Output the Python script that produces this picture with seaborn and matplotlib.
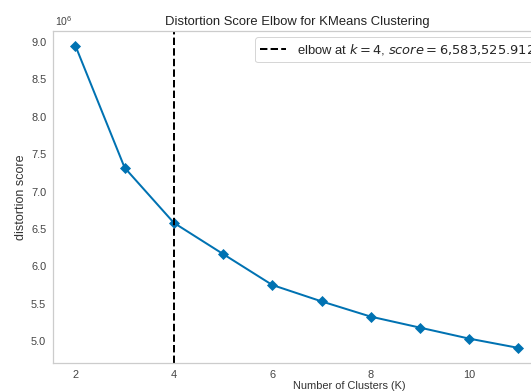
import matplotlib
matplotlib.use("Agg")
import matplotlib.pyplot as plt
import seaborn as sns
import pandas as pd

# Elbow curve for KMeans: distortion (sum of squared distances) per k
k_values = [2, 3, 4, 5, 6, 7, 8, 9, 10, 11]
distortion = [8.950e6, 7.320e6, 6583525.912, 6.167e6, 5.753e6,
              5.534e6, 5.330e6, 5.183e6, 5.036e6, 4.912e6]
elbow_k = 4
elbow_score = 6583525.912

sns.set_theme(style="white", context="notebook")
plt.rcParams["font.family"] = ["Liberation Sans", "DejaVu Sans"]
plt.rcParams["mathtext.fontset"] = "dejavusans"

df = pd.DataFrame({"k": k_values, "distortion": distortion})

fig = plt.figure(figsize=(531 / 72, 392 / 72), dpi=72)
ax = fig.add_axes([53.3 / 531, 1 - 363 / 392, 487.2 / 531, 332.3 / 392])

sns.lineplot(data=df, x="k", y="distortion", ax=ax, color="#0072B2",
             marker="D", markersize=7.5, markeredgecolor="#0072B2",
             linewidth=2)

score_txt = f"{elbow_score:,.3f}".replace(",", "{,}")
ax.axvline(elbow_k, color="black", linestyle="--", linewidth=2,
           label=f"elbow at $k={elbow_k}$, $score={score_txt}$")

ax.set_title("Distortion Score Elbow for KMeans Clustering", fontsize=13,
             color="#222222")
ax.set_xlabel("Number of Clusters (K)", fontsize=11, color="#333333")
ax.set_ylabel("distortion score", fontsize=12.5, color="#333333")
ax.xaxis.set_label_coords(0.607, -0.055)
ax.yaxis.set_label_coords(-0.055, 0.5)

ax.set_xticks([2, 4, 6, 8, 10])
yticks = [5.0e6, 5.5e6, 6.0e6, 6.5e6, 7.0e6, 7.5e6, 8.0e6, 8.5e6, 9.0e6]
ax.set_yticks(yticks)
ax.set_yticklabels([f"{v / 1e6:.1f}" for v in yticks])
ax.tick_params(axis="both", labelsize=11, labelcolor="#444444", length=0,
               pad=7)
# scale factor shown above the y axis
ax.text(0.004, 1.008, r"$\mathregular{10^{6}}$", transform=ax.transAxes,
        fontsize=10.5, color="#444444", ha="left", va="bottom")

for side in ["top", "right", "left", "bottom"]:
    ax.spines[side].set_color("#cccccc")
    ax.spines[side].set_linewidth(1.25)

ax.legend(loc="upper left", bbox_to_anchor=(255 / 531, 1 - 37 / 392),
          bbox_transform=fig.transFigure, borderaxespad=0,
          fontsize=13, frameon=True, edgecolor="#cccccc", handlelength=2.0)

fig.savefig("out.png", dpi=72)
